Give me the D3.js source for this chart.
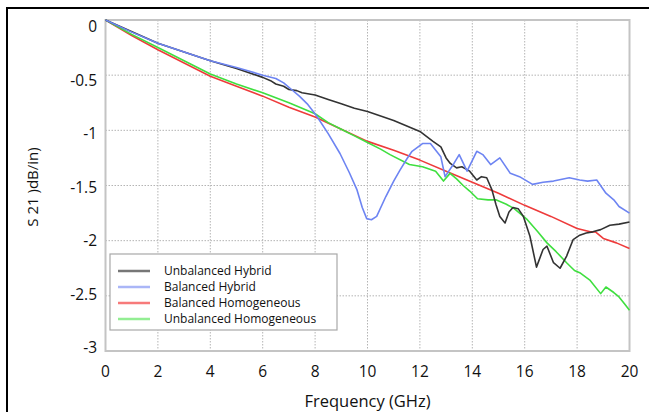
<!DOCTYPE html>
<html>
<head>
<meta charset="utf-8">
<script src="https://cdnjs.cloudflare.com/ajax/libs/d3/7.8.5/d3.min.js"></script>
<style>
  body { margin: 0; background: #fff; }
  svg { display: block; font-family: "Open Sans", "Noto Sans", sans-serif; }
</style>
</head>
<body>
<svg id="chart" width="649" height="412"></svg>
<script>
// frequency (GHz), S21 (dB/in)
var xTicks = [0, 2, 4, 6, 8, 10, 12, 14, 16, 18, 20];
var yTicks = [0, -0.5, -1, -1.5, -2, -2.5, -3];
var yTickLabels = ["0", "-0.5", "-1", "-1.5", "-2", "-2.5", "-3"];

var seriesNames = ["Unbalanced Hybrid", "Balanced Hybrid", "Balanced Homogeneous", "Unbalanced Homogeneous"];

var unbalancedHybrid = [[0,0],[2,-0.21],[4,-0.37],[5,-0.44],[6,-0.52],[6.3,-0.55],[6.5,-0.58],[6.8,-0.60],[7,-0.63],[7.3,-0.64],[7.5,-0.66],[8,-0.68],[8.5,-0.72],[9,-0.76],[9.5,-0.80],[10,-0.83],[10.5,-0.87],[11,-0.91],[11.5,-0.96],[12,-1.01],[12.5,-1.10],[12.8,-1.15],[13.0,-1.25],[13.16,-1.30],[13.4,-1.34],[13.6,-1.33],[13.9,-1.37],[14.17,-1.45],[14.35,-1.42],[14.55,-1.43],[14.75,-1.54],[14.9,-1.67],[15.05,-1.78],[15.25,-1.84],[15.4,-1.74],[15.55,-1.70],[15.75,-1.71],[15.95,-1.78],[16.2,-1.96],[16.45,-2.24],[16.7,-2.08],[16.85,-2.05],[17.1,-2.20],[17.35,-2.25],[17.6,-2.14],[17.85,-1.99],[18.1,-1.95],[18.35,-1.93],[18.6,-1.92],[18.9,-1.90],[19.25,-1.86],[19.6,-1.85],[20,-1.83]];

var balancedHybrid = [[0,0],[1,-0.11],[2,-0.21],[3,-0.29],[4,-0.37],[5,-0.43],[6,-0.50],[6.5,-0.53],[6.8,-0.57],[7.1,-0.63],[7.4,-0.69],[7.7,-0.76],[8.06,-0.87],[8.5,-1.03],[8.95,-1.21],[9.3,-1.38],[9.6,-1.54],[9.8,-1.70],[9.97,-1.80],[10.15,-1.81],[10.35,-1.78],[10.7,-1.60],[11.0,-1.46],[11.24,-1.36],[11.5,-1.26],[11.7,-1.19],[12.1,-1.12],[12.4,-1.12],[12.8,-1.24],[12.96,-1.42],[13.3,-1.30],[13.5,-1.22],[13.8,-1.37],[14.17,-1.19],[14.4,-1.22],[14.7,-1.31],[15.05,-1.25],[15.45,-1.39],[15.8,-1.42],[16.3,-1.49],[16.7,-1.47],[17.1,-1.46],[17.7,-1.43],[18.1,-1.45],[18.4,-1.46],[18.75,-1.45],[19.1,-1.57],[19.4,-1.63],[19.6,-1.69],[20,-1.75]];

var balancedHomogeneous = [[0,0],[1,-0.14],[2,-0.27],[3,-0.39],[4,-0.51],[5,-0.60],[6,-0.69],[7,-0.79],[8,-0.88],[9,-0.99],[10,-1.10],[11,-1.18],[12,-1.27],[13,-1.37],[14,-1.47],[15,-1.57],[16,-1.68],[17,-1.78],[18,-1.89],[18.5,-1.92],[18.7,-1.92],[19,-1.98],[19.5,-2.02],[20,-2.07]];

var unbalancedHomogeneous = [[0,0],[1,-0.13],[2,-0.25],[3,-0.37],[4,-0.49],[5,-0.58],[6,-0.66],[7,-0.75],[8,-0.85],[8.5,-0.93],[9,-0.99],[9.5,-1.05],[10,-1.11],[10.5,-1.17],[10.86,-1.22],[11.6,-1.31],[12.1,-1.33],[12.6,-1.37],[12.9,-1.46],[13.15,-1.39],[13.4,-1.44],[13.65,-1.50],[13.9,-1.55],[14.2,-1.62],[14.6,-1.63],[14.9,-1.63],[15.3,-1.67],[15.6,-1.71],[16.1,-1.81],[16.5,-1.92],[16.85,-2.02],[17.2,-2.10],[17.6,-2.20],[17.9,-2.27],[18.1,-2.29],[18.5,-2.36],[18.9,-2.48],[19.1,-2.42],[19.4,-2.47],[19.6,-2.51],[19.8,-2.57],[20,-2.63]];

var lineColors = ["#333333", "#6d84f2", "#ee3b3b", "#3fdf3f"];
var legendColors = ["#777777", "#aab6f7", "#f77a7a", "#93ee93"];

var svg = d3.select("#chart");

// outer frame (only top and left edges show in the picture)
svg.append("path")
  .attr("d", "M7,412 L7,8 L649,8")
  .attr("fill", "none")
  .attr("stroke", "#000")
  .attr("stroke-width", 2);

var x = d3.scaleLinear().domain([0, 20]).range([105.5, 629.5]);
var y = d3.scaleLinear().domain([-3, 0]).range([351, 20]);
// the tick numbers sit a bit off their gridlines in the original
var yLabel = d3.scaleLinear().domain([-3, 0]).range([348, 27]);

// grid
svg.append("g").selectAll("line.vg")
  .data(xTicks.slice(1, -1))
  .enter().append("line")
  .attr("x1", d => x(d)).attr("x2", d => x(d))
  .attr("y1", y(0)).attr("y2", y(-3))
  .attr("stroke", "#b4b4b4")
  .attr("stroke-dasharray", "1.5,1.5");

svg.append("g").selectAll("line.hg")
  .data(yTicks.slice(1, -1))
  .enter().append("line")
  .attr("x1", x(0)).attr("x2", x(20))
  .attr("y1", d => y(d)).attr("y2", d => y(d))
  .attr("stroke", "#b4b4b4")
  .attr("stroke-dasharray", "1.5,1.5");

svg.append("rect")
  .attr("x", x(0)).attr("y", y(0))
  .attr("width", x(20) - x(0)).attr("height", y(-3) - y(0))
  .attr("fill", "none")
  .attr("stroke", "#c4c4c4")
  .attr("stroke-width", 2);

// tick labels
svg.append("g").selectAll("text")
  .data(xTicks)
  .enter().append("text")
  .attr("x", d => x(d))
  .attr("y", 377)
  .attr("text-anchor", "middle")
  .attr("font-size", 15.5)
  .attr("fill", "#111")
  .text(d => d);

svg.append("g").selectAll("text")
  .data(yTicks)
  .enter().append("text")
  .attr("x", 97)
  .attr("y", d => yLabel(d))
  .attr("dy", "0.35em")
  .attr("text-anchor", "end")
  .attr("font-size", 15.5)
  .attr("fill", "#111")
  .text((d, i) => yTickLabels[i]);

svg.append("text")
  .attr("x", (x(0) + x(20)) / 2)
  .attr("y", 407)
  .attr("text-anchor", "middle")
  .attr("font-size", 16.5)
  .attr("fill", "#111")
  .text("Frequency (GHz)");

svg.append("text")
  .attr("transform", "translate(38," + 187 + ") rotate(-90)")
  .attr("text-anchor", "middle")
  .attr("font-size", 15)
  .attr("fill", "#111")
  .text("S 21 )dB/in)");

// curves
var line = d3.line()
  .x(d => x(d[0]))
  .y(d => y(d[1]));

var allSeries = [unbalancedHybrid, balancedHybrid, balancedHomogeneous, unbalancedHomogeneous];
var drawOrder = [2, 3, 0, 1];

drawOrder.forEach(function(i){
  svg.append("path")
    .datum(allSeries[i])
    .attr("d", line)
    .attr("fill", "none")
    .attr("stroke", lineColors[i])
    .attr("stroke-width", 1.6)
    .attr("stroke-linejoin", "round");
});

// legend
var legend = svg.append("g").attr("transform", "translate(110,254)");
legend.append("rect")
  .attr("width", 227).attr("height", 76)
  .attr("fill", "#fff")
  .attr("stroke", "#a8a8a8")
  .attr("stroke-width", 1.2);

var rows = legend.selectAll("g.row")
  .data(seriesNames)
  .enter().append("g")
  .attr("transform", (d, i) => "translate(0," + (17 + i * 16) + ")");

rows.append("line")
  .attr("x1", 8).attr("x2", 40)
  .attr("stroke", (d, i) => legendColors[i])
  .attr("stroke-width", 2.5);

rows.append("text")
  .attr("x", 54)
  .attr("dy", "0.35em")
  .attr("font-size", 12)
  .attr("fill", "#111")
  .text(d => d);
</script>
</body>
</html>
